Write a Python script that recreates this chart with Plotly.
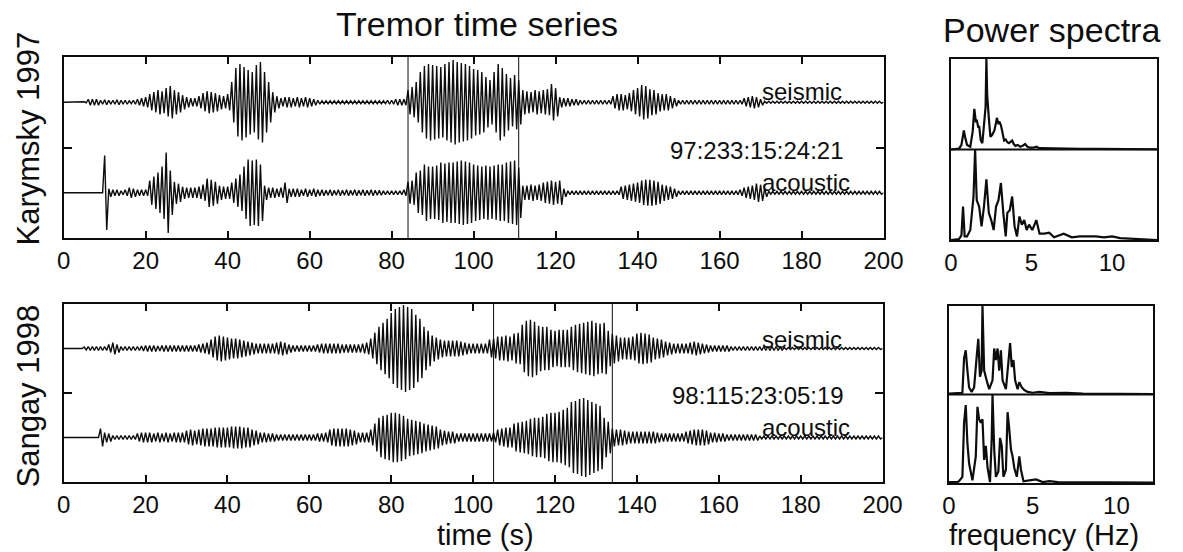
import plotly.graph_objects as go

# ---------------------------------------------------------------
# Tremor envelopes: peak amplitude in each 1-second bin (t = 0..199 s),
# in display units where each trace's baseline sits 45 units off centre.
# ---------------------------------------------------------------
karymsky_seismic = [
    0, 0, 0, 0, 0, 0.5, 3, 3, 3, 2,
    2.5, 2, 2, 2.5, 2, 2, 1.5, 2, 3, 4,
    5, 8, 10, 12, 11, 14, 16, 12, 10, 7,
    5, 4, 4, 6, 9, 11, 10, 9, 7, 6,
    8, 20, 34, 38, 35, 32, 30, 37, 40, 30,
    20, 10, 6, 4, 5, 5, 4, 5, 4, 5,
    4, 3, 2, 1.5, 1.5, 1.5, 1.5, 1.5, 1.5, 1.5,
    1.5, 1.5, 1.5, 1.5, 1.5, 1.5, 1.5, 1.5, 1.5, 2,
    2, 3, 3, 3, 12, 15, 20, 30, 36, 38,
    37, 36, 35, 38, 40, 42, 40, 39, 38, 36,
    33, 32, 30, 25, 22, 30, 38, 34, 28, 24,
    27, 22, 12, 11, 10, 12, 11, 12, 13, 18,
    14, 5, 4, 4, 3, 3, 2, 2, 2, 2,
    2, 2, 2, 2, 6, 8, 8, 7, 9, 12,
    14, 17, 16, 13, 12, 9, 8, 8, 6, 4,
    2, 2, 2, 2, 2, 2, 2, 2, 2, 2,
    2, 2, 2, 2, 2, 2, 4, 5, 6, 5,
    3, 1, 1, 1, 1, 1, 1, 1, 1, 1,
    1, 1, 1, 1, 1, 1, 1, 1, 1, 1,
    1, 1, 1, 1, 1, 1, 1, 1, 1, 1,
]
karymsky_acoustic = [
    0, 0, 0, 0, 0, 0, 0, 0, 0, 0,
    37, 4, 3, 3, 2, 3, 5, 4, 3, 3,
    3, 12, 16, 20, 26, 40, 22, 11, 9, 6,
    5, 5, 5, 6, 8, 14, 13, 11, 7, 6,
    6, 10, 14, 18, 26, 33, 32, 33, 28, 7,
    5, 5, 4, 5, 10, 4, 4, 4, 3, 4,
    3, 4, 3, 3, 2.5, 3, 2.5, 3, 2.5, 3,
    2.5, 3, 2.5, 3, 2.5, 3, 2.5, 2.5, 2, 2,
    2, 2, 2, 3, 11, 12, 20, 22, 28, 26,
    26, 27, 30, 29, 30, 30, 31, 32, 31, 30,
    28, 27, 26, 27, 26, 27, 28, 28, 30, 31,
    32, 25, 7, 7, 8, 7, 8, 10, 11, 12,
    11, 12, 4, 2, 2, 2, 2, 2, 2, 2,
    2, 2, 2, 2, 2, 2, 6, 7, 8, 9,
    10, 12, 13, 13, 12, 11, 8, 7, 6, 4,
    2, 2, 2, 2, 2, 2, 2, 2, 2, 2,
    2, 2, 2, 2, 2, 3, 5, 6, 7, 9,
    8, 4, 1.5, 1.5, 1.5, 1.5, 1.5, 1.5, 1.5, 1.5,
    1.5, 1.5, 1.5, 1.5, 1.5, 1.5, 1.5, 1.5, 1.5, 1.5,
    1.5, 1.5, 1.5, 1.5, 1.5, 1.5, 1.5, 1.5, 1.5, 1.5,
]
sangay_seismic = [
    0, 0, 0, 0, 0, 1.5, 2, 2, 2, 2,
    2, 4, 6, 4, 2, 2, 2, 2, 2, 2.5,
    3, 3, 3, 2.5, 3, 3, 3, 3, 3, 3,
    3, 3, 3, 4, 5, 6, 9, 12, 13, 12,
    11, 10, 10, 9, 8, 7, 6, 5, 5, 5,
    5, 5, 6, 7, 6, 4, 3, 3, 3, 3,
    3, 3, 4, 5, 5, 5, 5, 5, 4, 4,
    4, 4, 4, 5, 6, 10, 16, 22, 26, 30,
    36, 40, 42, 44, 42, 40, 34, 30, 22, 18,
    13, 11, 9, 8, 8, 8, 8, 7, 6, 5,
    5, 5, 5, 5, 9, 10, 12, 12, 13, 12,
    15, 16, 24, 28, 29, 27, 23, 22, 22, 19,
    18, 19, 19, 19, 22, 24, 25, 26, 27, 28,
    26, 25, 26, 18, 15, 13, 11, 11, 11, 12,
    15, 16, 15, 14, 11, 10, 9, 7, 6, 5,
    5, 5, 5, 6, 7, 6, 5, 4, 3, 3,
    3, 3, 3, 2, 2, 2, 2, 2, 2, 2,
    2, 2, 2, 2, 2, 1.5, 1, 1, 1, 1,
    1, 1, 1, 1, 1, 1, 1, 1, 1, 1,
    1, 1, 1, 1, 1, 1, 1, 1, 1, 1,
]
sangay_acoustic = [
    0, 0, 0, 0, 0, 0, 0, 0, 0, 9,
    5, 4, 2, 2, 2, 2, 2, 2, 4, 5,
    5, 5, 4, 5, 4, 5, 4, 5, 5, 5,
    7, 8, 7, 8, 9, 9, 9, 10, 10, 10,
    10, 11, 11, 11, 10, 10, 8, 7, 5, 5,
    4, 4, 3, 3, 3, 3, 3, 3, 3, 3,
    3, 3, 4, 4, 5, 8, 9, 9, 9, 9,
    8, 7, 5, 5, 5, 8, 14, 20, 22, 23,
    25, 25, 24, 22, 19, 18, 17, 16, 14, 13,
    12, 11, 8, 7, 6, 6, 4, 4, 4, 4,
    4, 4, 4, 4, 4, 5, 8, 9, 10, 10,
    14, 15, 16, 17, 19, 20, 20, 21, 24, 25,
    25, 26, 28, 30, 36, 37, 39, 40, 38, 36,
    34, 32, 20, 16, 9, 8, 8, 7, 6, 6,
    6, 6, 6, 6, 6, 5, 4, 4, 4, 4,
    4, 4, 6, 7, 8, 8, 8, 7, 5, 5,
    4, 4, 3, 3, 3, 3, 3, 3, 3, 3,
    1.5, 1.5, 1.5, 1.5, 1.5, 1.5, 1.5, 1.5, 1.5, 1.5,
    1.5, 1.5, 1.5, 1.5, 1.5, 1.5, 1.5, 1.5, 1.5, 1.5,
    1.5, 1.5, 1.5, 1.5, 1.5, 1.5, 1.5, 1.5, 1.5, 1.5,
]

# Analysis windows (s) used for the spectra
karymsky_window = [84, 111]
sangay_window = [105, 134]

# Stamps (yy:ddd:hh:mm:ss)
karymsky_stamp = "97:233:15:24:21"
sangay_stamp = "98:115:23:05:19"

# Normalised power spectra (frequency in Hz, power relative to peak)
karymsky_seis_freq = [
    0.0, 0.5, 0.65, 0.8, 0.9, 1.0, 1.2, 1.35, 1.45, 1.55,
    1.6, 1.7, 1.75, 1.85, 1.95, 2.05, 2.15, 2.2, 2.25, 2.35,
    2.45, 2.55, 2.7, 2.8, 2.85, 2.95, 3.0, 3.1, 3.2, 3.3,
    3.4, 3.5, 3.6, 3.7, 3.8, 3.9, 4.0, 4.15, 4.3, 4.45,
    4.6, 4.75, 4.9, 5.1, 5.3, 5.5, 5.8, 6.2, 7.0, 8.0,
    9.0, 10.0, 11.0, 12.8]
karymsky_seis_power = [
    0.0, 0.01, 0.05, 0.21, 0.12, 0.05, 0.03, 0.2, 0.45, 0.3,
    0.33, 0.24, 0.26, 0.1, 0.07, 0.3, 0.47, 1.0, 0.6, 0.35,
    0.14, 0.16, 0.21, 0.3, 0.35, 0.28, 0.31, 0.27, 0.18, 0.1,
    0.11, 0.08, 0.07, 0.09, 0.1, 0.06, 0.04, 0.05, 0.03, 0.04,
    0.06, 0.03, 0.02, 0.02, 0.03, 0.015, 0.015, 0.01, 0.01, 0.008,
    0.006, 0.005, 0.004, 0.003]
karymsky_acou_freq = [
    0.0, 0.5, 0.65, 0.75, 0.85, 1.0, 1.2, 1.4, 1.5, 1.6,
    1.75, 1.9, 2.05, 2.2, 2.35, 2.5, 2.65, 2.8, 2.95, 3.1,
    3.25, 3.4, 3.5, 3.65, 3.8, 3.95, 4.1, 4.25, 4.4, 4.55,
    4.7, 4.85, 5.05, 5.3, 5.5, 5.8, 6.1, 6.4, 7.0, 7.5,
    8.0, 8.5, 9.0, 9.5, 10.0, 10.5, 11.0, 11.5, 12.0, 12.8]
karymsky_acou_power = [
    0.0, 0.01, 0.05, 0.37, 0.04, 0.04, 0.11, 0.48, 1.0, 0.44,
    0.37, 0.15, 0.37, 0.67, 0.3, 0.22, 0.11, 0.37, 0.44, 0.63,
    0.3, 0.04, 0.3, 0.33, 0.48, 0.15, 0.04, 0.26, 0.17, 0.22,
    0.11, 0.17, 0.11, 0.22, 0.07, 0.07, 0.08, 0.03, 0.07, 0.03,
    0.04, 0.04, 0.04, 0.03, 0.04, 0.02, 0.015, 0.01, 0.005, 0.0]
sangay_seis_freq = [
    0.0, 0.4, 0.6, 0.8, 0.9, 1.0, 1.1, 1.2, 1.35, 1.5,
    1.65, 1.75, 1.85, 1.95, 2.0, 2.1, 2.25, 2.4, 2.6, 2.7,
    2.8, 2.9, 3.0, 3.1, 3.2, 3.4, 3.55, 3.65, 3.75, 3.85,
    3.95, 4.1, 4.2, 4.35, 4.5, 4.7, 5.0, 5.4, 6.0, 7.0,
    8.0, 9.0, 10.0, 12.8]
sangay_seis_power = [
    0.01, 0.015, 0.02, 0.02, 0.41, 0.5, 0.27, 0.08, 0.03, 0.08,
    0.42, 0.63, 0.2, 0.27, 1.0, 0.27, 0.16, 0.06, 0.16, 0.52,
    0.39, 0.52, 0.27, 0.5, 0.16, 0.06, 0.37, 0.58, 0.31, 0.39,
    0.16, 0.06, 0.14, 0.08, 0.05, 0.03, 0.02, 0.03, 0.015, 0.02,
    0.01, 0.01, 0.01, 0.005]
sangay_acou_freq = [
    0.0, 0.5, 0.6, 0.8, 0.9, 1.0, 1.1, 1.2, 1.4, 1.6,
    1.7, 1.8, 1.9, 2.0, 2.1, 2.2, 2.3, 2.45, 2.55, 2.6,
    2.7, 2.8, 2.95, 3.05, 3.15, 3.25, 3.4, 3.5, 3.6, 3.7,
    3.8, 3.9, 4.05, 4.2, 4.3, 4.45, 4.8, 5.2, 5.6, 6.0,
    6.5, 7.0, 8.0, 12.8]
sangay_acou_power = [
    0.01, 0.01, 0.02, 0.07, 0.68, 0.88, 0.45, 0.22, 0.03, 0.3,
    0.86, 0.72, 0.68, 0.72, 0.26, 0.42, 0.18, 0.01, 0.49, 1.0,
    0.38, 0.07, 0.13, 0.51, 0.42, 0.07, 0.15, 0.8, 0.61, 0.38,
    0.3, 0.17, 0.07, 0.3, 0.15, 0.02, 0.03, 0.04, 0.01, 0.02,
    0.01, 0.01, 0.005, 0.005]

time_ticks = [0, 20, 40, 60, 80, 100, 120, 140, 160, 180, 200]
freq_ticks = [0, 5, 10]

# ---------------------------------------------------------------
W, H = 1183, 552
FONT = "Liberation Sans, Arial, Helvetica, sans-serif"
INK = "#0d0d0d"


def fx(p):
    return p / W


def fy(p):
    return 1 - p / H


def envelope_line(env, offset):
    """Min/max polyline: each 1-s bin contributes its high then its low."""
    xs, ys = [], []
    for i, a in enumerate(env):
        xs += [i, i + 0.5]
        ys += [offset + a, offset - a]
    xs.append(len(env))
    ys.append(offset)
    return xs, ys


fig = go.Figure()

for env, off, ax in [(karymsky_seismic, 45, "1"), (karymsky_acoustic, -45, "1"),
                     (sangay_seismic, 45, "2"), (sangay_acoustic, -45, "2")]:
    xs, ys = envelope_line(env, off)
    fig.add_trace(go.Scatter(
        x=xs, y=ys, mode="lines", line=dict(color=INK, width=1.4),
        xaxis="x" if ax == "1" else "x2", yaxis="y" if ax == "1" else "y2",
        hoverinfo="skip", showlegend=False))

for f, p, off, ax in [(karymsky_seis_freq, karymsky_seis_power, 1, "3"),
                      (karymsky_acou_freq, karymsky_acou_power, 0, "3"),
                      (sangay_seis_freq, sangay_seis_power, 1, "4"),
                      (sangay_acou_freq, sangay_acou_power, 0, "4")]:
    fig.add_trace(go.Scatter(
        x=f, y=[off + v for v in p], mode="lines",
        line=dict(color=INK, width=2.2),
        xaxis="x" + ax, yaxis="y" + ax, hoverinfo="skip", showlegend=False))

time_axis = dict(range=[0, 200], tickvals=time_ticks, ticks="inside",
                 ticklen=7, tickwidth=2, tickcolor=INK, mirror="ticks",
                 showline=True, linewidth=2, linecolor=INK, showgrid=False,
                 zeroline=False, tickfont=dict(family=FONT, size=24, color=INK))
amp_axis = dict(range=[-90, 90], tickvals=[0], ticks="inside", ticklen=8,
                tickwidth=2, tickcolor=INK, mirror="ticks", showline=True,
                linewidth=2, linecolor=INK, showgrid=False, zeroline=False,
                showticklabels=False)
freq_axis = dict(tickvals=freq_ticks, ticks="", mirror=True, showline=True,
                 linewidth=2, linecolor=INK, showgrid=False, zeroline=False,
                 tickfont=dict(family=FONT, size=24, color=INK))
pow_axis = dict(range=[0, 2], ticks="", mirror=True, showline=True,
                linewidth=2, linecolor=INK, showgrid=False, zeroline=False,
                showticklabels=False)

fig.update_layout(
    width=W, height=H, margin=dict(l=0, r=0, t=0, b=0),
    paper_bgcolor="white", plot_bgcolor="white",
    xaxis=dict(time_axis, domain=[fx(58), fx(897)], anchor="y"),
    yaxis=dict(amp_axis, domain=[fy(238), fy(57)], anchor="x"),
    xaxis2=dict(time_axis, domain=[fx(58), fx(896)], anchor="y2"),
    yaxis2=dict(amp_axis, domain=[fy(482), fy(304)], anchor="x2"),
    xaxis3=dict(freq_axis, range=[0, 12.8], domain=[fx(966), fx(1177)], anchor="y3"),
    yaxis3=dict(pow_axis, domain=[fy(240), fy(59)], anchor="x3"),
    xaxis4=dict(freq_axis, range=[0, 12.2], domain=[fx(964), fx(1173)], anchor="y4"),
    yaxis4=dict(pow_axis, domain=[fy(483), fy(306)], anchor="x4"),
)

shapes = []
for t in karymsky_window:
    shapes.append(dict(type="line", xref="x", yref="y domain", x0=t, x1=t,
                       y0=0, y1=1, line=dict(color=INK, width=1)))
for t in sangay_window:
    shapes.append(dict(type="line", xref="x2", yref="y2 domain", x0=t, x1=t,
                       y0=0, y1=1, line=dict(color=INK, width=1)))
for ax in ["3", "4"]:
    shapes.append(dict(type="line", xref="x" + ax + " domain", yref="y" + ax,
                       x0=0, x1=1, y0=1, y1=1, line=dict(color=INK, width=2)))
fig.update_layout(shapes=shapes)


def label(text, x, y, size, xanchor="center", angle=0):
    return dict(text=text, x=fx(x), y=fy(y), xref="paper", yref="paper",
                xanchor=xanchor, yanchor="middle", showarrow=False,
                textangle=angle, font=dict(family=FONT, size=size, color=INK))


annotations = [
    label("Tremor time series", 481, 24, 34),
    label("Power spectra", 1069, 30, 34),
    label("Karymsky 1997", 21, 139, 31, angle=-90),
    label("Sangay 1998", 21, 396, 31, angle=-90),
    label("time (s)", 490, 535, 29),
    label("frequency (Hz)", 1061, 535, 29),
    label("seismic", 771, 92, 24, xanchor="left"),
    label(karymsky_stamp, 859, 150, 24, xanchor="right"),
    label("acoustic", 771, 182, 24, xanchor="left"),
    label("seismic", 771, 339, 24, xanchor="left"),
    label(sangay_stamp, 859, 395, 24, xanchor="right"),
    label("acoustic", 771, 427, 24, xanchor="left"),
]
fig.update_layout(annotations=annotations)

fig.write_html("out.html")
